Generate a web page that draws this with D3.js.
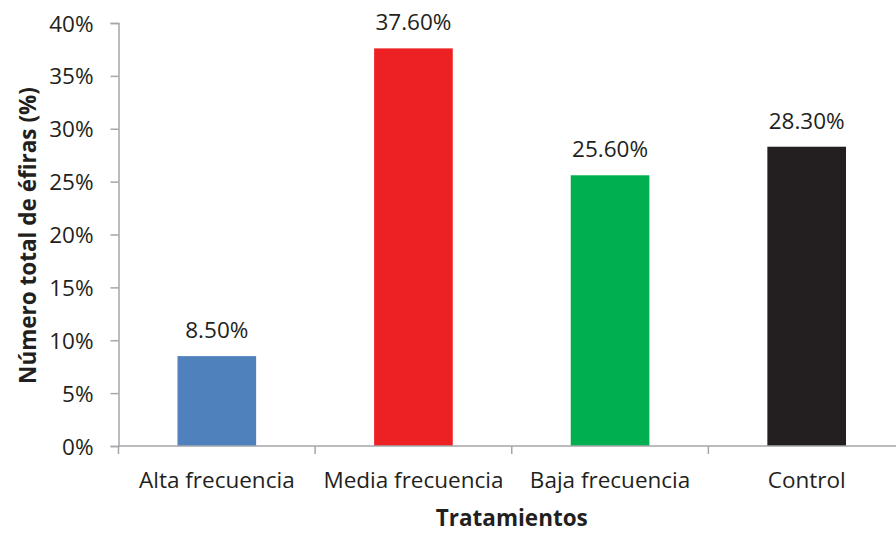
<!DOCTYPE html>
<html>
<head>
<meta charset="utf-8">
<script src="https://cdn.jsdelivr.net/npm/d3@7"></script>
<style>
  html, body { margin: 0; padding: 0; background: #fff; }
  svg { display: block; }
  text { font-family: "Open Sans", Lato, sans-serif; fill: #231F20; }
</style>
</head>
<body>
<svg id="chart" width="896" height="533"></svg>
<script>
// Treatments and share of total ephyrae (%)
const categories = ["Alta frecuencia", "Media frecuencia", "Baja frecuencia", "Control"];
const values = [8.5, 37.6, 25.6, 28.3];
const colors = ["#4F81BD", "#ED2024", "#00B050", "#231F20"];
const yTicks = [0, 5, 10, 15, 20, 25, 30, 35, 40];
const yTitle = "Número total de éfiras (%)";
const xTitle = "Tratamientos";

const svg = d3.select("#chart");
const margin = { left: 118.5, right: -9, top: 23, bottom: 87 };
const W = 896, H = 533;
const axisColor = "#A6A6AB";
const fontFamily = "'Open Sans', Lato, sans-serif";
const labelSize = 22.5;

const x = d3.scaleBand()
  .domain(categories)
  .range([margin.left, W - margin.right])
  .paddingInner(0.6)
  .paddingOuter(0.3);

const y = d3.scaleLinear()
  .domain([0, 40])
  .range([H - margin.bottom, margin.top]);

// Y axis
const yAxis = svg.append("g")
  .attr("transform", `translate(${margin.left},0)`)
  .call(d3.axisLeft(y).tickValues(yTicks).tickFormat(d => d + "%").tickSize(8).tickPadding(17));
yAxis.select(".domain").attr("stroke", axisColor).attr("stroke-width", 1.5);
yAxis.selectAll(".tick line").attr("stroke", axisColor).attr("stroke-width", 1.5);
yAxis.selectAll(".tick text")
  .attr("font-size", labelSize)
  .attr("dy", "0.36em")
  .style("font-family", fontFamily)
  .attr("fill", "#231F20");

// Bars
svg.append("g").selectAll("rect")
  .data(values)
  .join("rect")
  .attr("x", (d, i) => x(categories[i]))
  .attr("width", x.bandwidth())
  .attr("y", d => y(d))
  .attr("height", d => y(0) - y(d))
  .attr("fill", (d, i) => colors[i]);

// Value labels
svg.append("g").selectAll("text")
  .data(values)
  .join("text")
  .attr("x", (d, i) => x(categories[i]) + x.bandwidth() / 2)
  .attr("y", d => y(d) - 18)
  .attr("text-anchor", "middle")
  .attr("font-size", labelSize)
  .text(d => d.toFixed(2) + "%");

// X axis: baseline plus ticks on the category boundaries
const step = x.step();
const boundary0 = x(categories[0]) - x.paddingInner() * step / 2;
const xAxisG = svg.append("g");
xAxisG.append("line")
  .attr("x1", margin.left).attr("x2", W)
  .attr("y1", y(0)).attr("y2", y(0))
  .attr("stroke", axisColor).attr("stroke-width", 1.5);
xAxisG.selectAll("line.tk")
  .data(d3.range(categories.length + 1))
  .join("line")
  .attr("class", "tk")
  .attr("x1", i => boundary0 + i * step)
  .attr("x2", i => boundary0 + i * step)
  .attr("y1", y(0)).attr("y2", y(0) + 8)
  .attr("stroke", axisColor).attr("stroke-width", 1.5);

xAxisG.selectAll("text")
  .data(categories)
  .join("text")
  .attr("x", d => x(d) + x.bandwidth() / 2)
  .attr("y", y(0) + 42)
  .attr("text-anchor", "middle")
  .attr("font-size", labelSize)
  .text(d => d);

// Axis titles
svg.append("text")
  .attr("x", (margin.left + W - margin.right) / 2)
  .attr("y", 526)
  .attr("text-anchor", "middle")
  .attr("font-size", 22.5)
  .attr("font-weight", "bold")
  .text(xTitle);

svg.append("text")
  .attr("transform", `translate(36,${(y(0) + y(40)) / 2 + 1}) rotate(-90)`)
  .attr("text-anchor", "middle")
  .attr("font-size", 22.5)
  .attr("font-weight", "bold")
  .text(yTitle);
</script>
</body>
</html>
